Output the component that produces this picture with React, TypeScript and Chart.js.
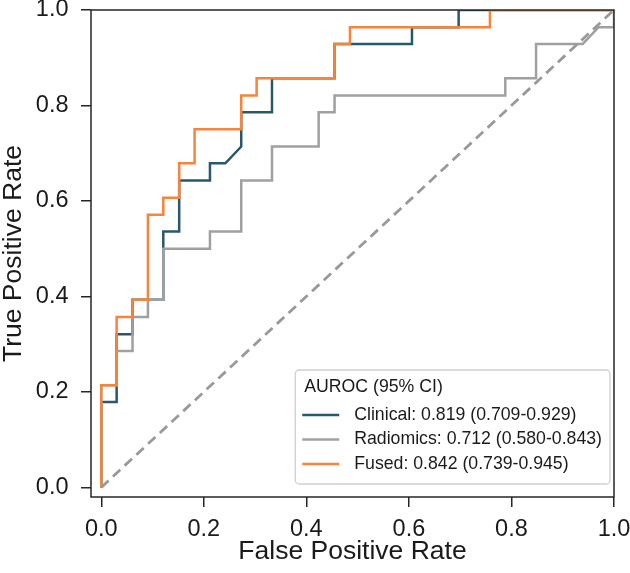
import React, { useEffect, useRef } from 'react';
import { Chart, registerables } from 'chart.js';

Chart.register(...registerables);

const FONT = "'Liberation Sans', Arial, Helvetica, sans-serif";
const TEXT_COLOR = '#1a1a1a';
const AXIS_COLOR = '#262626';

const X_TITLE = 'False Positive Rate';
const Y_TITLE = 'True Positive Rate';
const LEGEND_TITLE = 'AUROC (95% CI)';
const TICK_VALUES = [0, 0.2, 0.4, 0.6, 0.8, 1.0];

const SERIES_LABELS = [
  'Clinical: 0.819 (0.709-0.929)',
  'Radiomics: 0.712 (0.580-0.843)',
  'Fused: 0.842 (0.739-0.945)',
];
const SERIES_COLORS = ['#27596a', '#a0a0a3', '#f7843a'];

// ROC operating points (false positive rate, true positive rate)
const clinicalFpr = [0, 0, 0.030, 0.030, 0.061, 0.061, 0.121, 0.121, 0.152, 0.152, 0.212, 0.212, 0.242, 0.273, 0.273, 0.333, 0.333, 0.455, 0.455, 0.606, 0.606, 0.697, 0.697, 1];
const clinicalTpr = [0, 0.179, 0.179, 0.321, 0.321, 0.393, 0.393, 0.536, 0.536, 0.643, 0.643, 0.679, 0.679, 0.714, 0.786, 0.786, 0.857, 0.857, 0.929, 0.929, 0.964, 0.964, 1, 1];

const radiomicsFpr = [0, 0, 0.030, 0.030, 0.061, 0.061, 0.091, 0.091, 0.121, 0.121, 0.212, 0.212, 0.273, 0.273, 0.333, 0.333, 0.424, 0.424, 0.455, 0.455, 0.788, 0.788, 0.848, 0.848, 0.939, 0.970, 1, 1];
const radiomicsTpr = [0, 0.214, 0.214, 0.286, 0.286, 0.357, 0.357, 0.393, 0.393, 0.5, 0.5, 0.536, 0.536, 0.643, 0.643, 0.714, 0.714, 0.786, 0.786, 0.821, 0.821, 0.857, 0.857, 0.929, 0.929, 0.964, 0.964, 1];

const fusedFpr = [0, 0, 0.030, 0.030, 0.061, 0.061, 0.091, 0.091, 0.121, 0.121, 0.152, 0.152, 0.182, 0.182, 0.273, 0.273, 0.303, 0.303, 0.455, 0.455, 0.485, 0.485, 0.758, 0.758, 1];
const fusedTpr = [0, 0.214, 0.214, 0.357, 0.357, 0.393, 0.393, 0.571, 0.571, 0.607, 0.607, 0.679, 0.679, 0.75, 0.75, 0.821, 0.821, 0.857, 0.857, 0.929, 0.929, 0.964, 0.964, 1, 1];

// chance line
const chanceFpr = [0, 1];
const chanceTpr = [0, 1];

const toPoints = (xs: number[], ys: number[]) => xs.map((x, i) => ({ x, y: ys[i] }));

const framePlugin = {
  id: 'axesFrame',
  afterDatasetsDraw(chart: any) {
    const { ctx, chartArea: a } = chart;
    ctx.save();
    ctx.strokeStyle = AXIS_COLOR;
    ctx.lineWidth = 1.5;
    ctx.strokeRect(a.left, a.top, a.right - a.left, a.bottom - a.top);
    ctx.restore();
  },
};

const legendPlugin = {
  id: 'rocLegend',
  afterDraw(chart: any) {
    const { ctx, chartArea: a } = chart;
    const items = chart.data.datasets.filter((d: any) => d.label);
    ctx.save();
    ctx.font = `17.7px ${FONT}`;
    const textW = Math.max(
      ctx.measureText(LEGEND_TITLE).width,
      ...items.map((d: any) => ctx.measureText(d.label).width)
    );
    const width = 59 + textW + 8;
    const height = 114;
    const right = a.right - 4;
    const bottom = a.bottom - 13;
    const left = right - width;
    const top = bottom - height;
    const r = 4;

    ctx.beginPath();
    ctx.moveTo(left + r, top);
    ctx.arcTo(right, top, right, bottom, r);
    ctx.arcTo(right, bottom, left, bottom, r);
    ctx.arcTo(left, bottom, left, top, r);
    ctx.arcTo(left, top, right, top, r);
    ctx.closePath();
    ctx.fillStyle = 'rgba(255,255,255,0.85)';
    ctx.fill();
    ctx.strokeStyle = '#cfcfcf';
    ctx.lineWidth = 1.3;
    ctx.stroke();

    ctx.fillStyle = TEXT_COLOR;
    ctx.textBaseline = 'middle';
    ctx.textAlign = 'left';
    ctx.fillText(LEGEND_TITLE, left + 9, top + 17);

    items.forEach((d: any, i: number) => {
      const y = top + 45 + i * 24.5;
      ctx.beginPath();
      ctx.strokeStyle = d.borderColor;
      ctx.lineWidth = 2.5;
      ctx.moveTo(left + 7, y);
      ctx.lineTo(left + 44, y);
      ctx.stroke();
      ctx.fillStyle = TEXT_COLOR;
      ctx.fillText(d.label, left + 59, y);
    });
    ctx.restore();
  },
};

export default function App() {
  const canvasRef = useRef<HTMLCanvasElement | null>(null);

  useEffect(() => {
    const canvas = canvasRef.current;
    if (!canvas) return;

    const line = (label: string, xs: number[], ys: number[], color: string, order: number) => ({
      label,
      data: toPoints(xs, ys),
      showLine: true,
      borderColor: color,
      backgroundColor: color,
      borderWidth: 2.5,
      pointRadius: 0,
      pointHoverRadius: 0,
      tension: 0,
      borderJoinStyle: 'miter',
      order,
    });

    const chart = new Chart(canvas, {
      type: 'scatter',
      data: {
        datasets: [
          line(SERIES_LABELS[0], clinicalFpr, clinicalTpr, SERIES_COLORS[0], 3),
          line(SERIES_LABELS[1], radiomicsFpr, radiomicsTpr, SERIES_COLORS[1], 2),
          line(SERIES_LABELS[2], fusedFpr, fusedTpr, SERIES_COLORS[2], 1),
          {
            ...line('', chanceFpr, chanceTpr, '#999999', 0),
            borderWidth: 2.8,
            borderDash: [10, 6],
          },
        ] as any,
      },
      options: {
        animation: false,
        responsive: false,
        devicePixelRatio: 1,
        layout: { padding: { top: 10, right: 16, left: 0, bottom: 0 } },
        plugins: {
          legend: { display: false },
          tooltip: { enabled: false },
        },
        scales: {
          x: {
            type: 'linear',
            min: -0.02,
            max: 1.0,
            afterBuildTicks: (s: any) => {
              s.ticks = TICK_VALUES.map((v) => ({ value: v }));
            },
            afterFit: (s: any) => {
              s.height = 76;
              s.paddingLeft = 0;
              s.paddingRight = 0;
            },
            grid: {
              display: true,
              drawOnChartArea: false,
              drawTicks: true,
              tickLength: 10,
              color: AXIS_COLOR,
              lineWidth: 1.5,
            },
            border: { display: false },
            ticks: {
              autoSkip: false,
              maxRotation: 0,
              padding: 8,
              color: TEXT_COLOR,
              font: { family: FONT, size: 23.5 },
              callback: (v: any) => Number(v).toFixed(1),
            },
            title: {
              display: true,
              text: X_TITLE,
              color: TEXT_COLOR,
              font: { family: FONT, size: 26.5, lineHeight: 1.2 },
              padding: { top: 0, bottom: 5 },
            },
          },
          y: {
            type: 'linear',
            min: -0.02,
            max: 1.0,
            afterBuildTicks: (s: any) => {
              s.ticks = TICK_VALUES.map((v) => ({ value: v }));
            },
            afterFit: (s: any) => {
              s.width = 91;
              s.paddingTop = 0;
              s.paddingBottom = 0;
            },
            grid: {
              display: true,
              drawOnChartArea: false,
              drawTicks: true,
              tickLength: 10,
              color: AXIS_COLOR,
              lineWidth: 1.5,
            },
            border: { display: false },
            ticks: {
              autoSkip: false,
              padding: 12.5,
              color: TEXT_COLOR,
              font: { family: FONT, size: 23.5 },
              callback: (v: any) => Number(v).toFixed(1),
            },
            title: {
              display: true,
              text: Y_TITLE,
              color: TEXT_COLOR,
              font: { family: FONT, size: 26.5, lineHeight: 1.0 },
              padding: 0,
            },
          },
        },
      } as any,
      plugins: [framePlugin, legendPlugin],
    });

    return () => chart.destroy();
  }, []);

  return (
    <div style={{ position: 'fixed', left: 0, top: 0, width: 630, height: 573, background: '#ffffff' }}>
      <canvas ref={canvasRef} width={630} height={573} />
    </div>
  );
}
